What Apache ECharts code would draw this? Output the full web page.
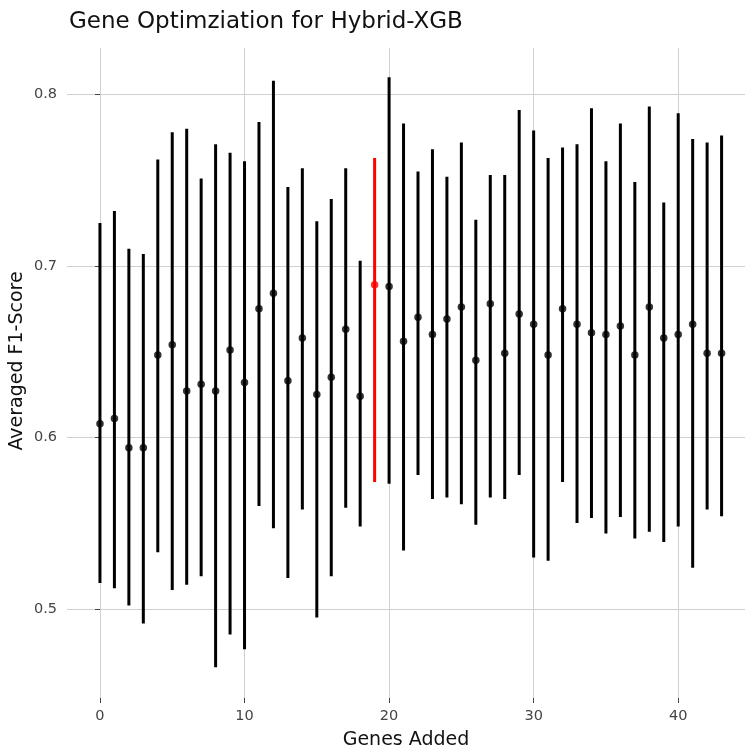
<!DOCTYPE html>
<html>
<head>
<meta charset="utf-8">
<script src="https://cdn.jsdelivr.net/npm/echarts@6/dist/echarts.min.js"></script>
<style>
  html, body { margin: 0; padding: 0; background: #fff; }
  #chart { width: 745px; height: 755px; }
</style>
</head>
<body>
<div id="chart"></div>
<script>
// ---- data ----
const genesAdded = [0,1,2,3,4,5,6,7,8,9,10,11,12,13,14,15,16,17,18,19,20,21,22,23,24,25,26,27,28,29,30,31,32,33,34,35,36,37,38,39,40,41,42,43];
const meanF1 = [0.608,0.611,0.594,0.594,0.648,0.654,0.627,0.631,0.627,0.651,0.632,0.675,0.684,0.633,0.658,0.625,0.635,0.663,0.624,0.689,0.688,0.656,0.670,0.660,0.669,0.676,0.645,0.678,0.649,0.672,0.666,0.648,0.675,0.666,0.661,0.660,0.665,0.648,0.676,0.658,0.660,0.666,0.649,0.649];
const upperF1 = [0.725,0.732,0.710,0.707,0.762,0.778,0.780,0.751,0.771,0.766,0.761,0.784,0.808,0.746,0.757,0.726,0.739,0.757,0.703,0.763,0.810,0.783,0.755,0.768,0.752,0.772,0.727,0.753,0.753,0.791,0.779,0.763,0.769,0.771,0.792,0.761,0.783,0.749,0.793,0.737,0.789,0.774,0.772,0.776];
const lowerF1 = [0.515,0.512,0.502,0.4915,0.533,0.511,0.514,0.519,0.466,0.485,0.4765,0.560,0.547,0.518,0.558,0.495,0.519,0.559,0.548,0.574,0.573,0.534,0.578,0.564,0.565,0.561,0.549,0.565,0.564,0.578,0.530,0.528,0.574,0.550,0.553,0.544,0.5535,0.541,0.545,0.539,0.548,0.524,0.558,0.554];
const bestGene = 19;
const xTicks = [0, 10, 20, 30, 40];
const yTicks = [0.5, 0.6, 0.7, 0.8];
const chartTitle = 'Gene Optimziation for Hybrid-XGB';
const xTitle = 'Genes Added';
const yTitle = 'Averaged F1-Score';

// ---- build ----
const FONT = '"DejaVu Sans", Verdana, sans-serif';
const colorFor = i => (genesAdded[i] === bestGene ? '#ff0000' : '#000000');

const errData = genesAdded.map((g, i) => [g, lowerF1[i], upperF1[i]]);
const ptData = genesAdded.map((g, i) => ({ value: [g, meanF1[i]], itemStyle: { color: colorFor(i) } }));

const chart = echarts.init(document.getElementById('chart'), null, { renderer: 'canvas' });
chart.setOption({
  animation: false,
  backgroundColor: '#ffffff',
  title: {
    text: chartTitle,
    left: 64, top: 6,
    textStyle: { fontFamily: FONT, fontSize: 23, fontWeight: 'normal', color: '#111' }
  },
  grid: { left: 67, right: 0, top: 48, bottom: 57, containLabel: false, outerBoundsMode: 'none' },
  xAxis: {
    type: 'value',
    min: -2.28, max: 44.62,
    name: xTitle, nameLocation: 'middle', nameGap: 33, nameMoveOverlap: false,
    nameTextStyle: { fontFamily: FONT, fontSize: 19, color: '#111' },
    axisLine: { show: false },
    axisTick: { show: true, customValues: xTicks, length: 5, lineStyle: { color: '#444', width: 1 } },
    axisLabel: { customValues: xTicks, margin: 11, fontFamily: FONT, fontSize: 14.5, color: '#444' },
    splitLine: { show: true, lineStyle: { color: '#d0d0d0', width: 1 } }
  },
  yAxis: {
    type: 'value',
    min: 0.448, max: 0.8271,
    name: yTitle, nameLocation: 'middle', nameGap: 40, nameMoveOverlap: false,
    nameTextStyle: { fontFamily: FONT, fontSize: 19, color: '#111', padding: [0, 0, 0, 24] },
    axisLine: { show: false },
    axisTick: { show: true, customValues: yTicks, length: 5, lineStyle: { color: '#444', width: 1 } },
    axisLabel: { customValues: yTicks, margin: 10, fontFamily: FONT, fontSize: 14.5, color: '#444',
                 formatter: v => v.toFixed(1) },
    splitLine: { show: true, lineStyle: { color: '#d0d0d0', width: 1 } }
  },
  series: [
    {
      type: 'custom',
      name: 'range',
      data: errData,
      encode: { x: 0, y: [1, 2] },
      clip: true,
      renderItem: (params, api) => {
        const x = api.value(0);
        const lo = api.coord([x, api.value(1)]);
        const hi = api.coord([x, api.value(2)]);
        return {
          type: 'line',
          shape: { x1: lo[0], y1: lo[1], x2: hi[0], y2: hi[1] },
          style: { stroke: colorFor(params.dataIndex), lineWidth: 3, lineCap: 'butt' }
        };
      },
      z: 2
    },
    {
      type: 'scatter',
      name: 'mean',
      data: ptData,
      symbol: 'circle',
      symbolSize: 7.5,
      z: 3
    }
  ]
});
</script>
</body>
</html>
